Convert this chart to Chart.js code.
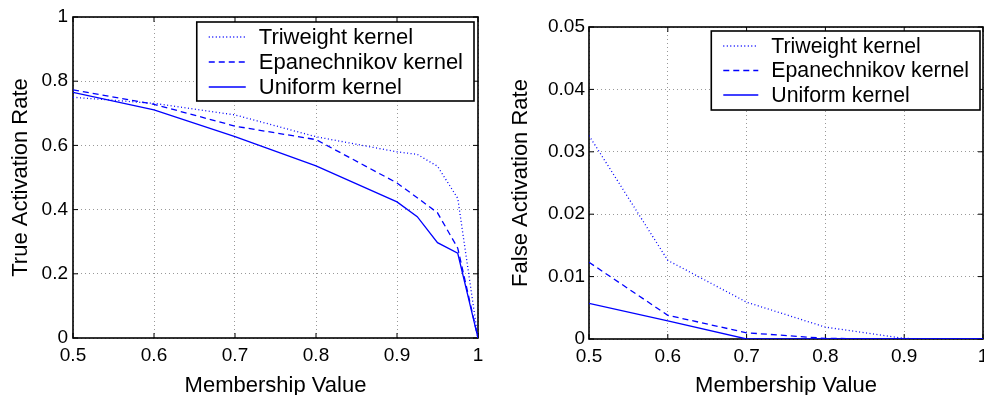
<!DOCTYPE html>
<html>
<head>
<meta charset="utf-8">
<script src="https://cdn.jsdelivr.net/npm/chart.js@4/dist/chart.umd.min.js"></script>
<style>
  html, body { margin: 0; padding: 0; background: #fff; overflow: hidden; }
  #wrap { position: relative; width: 984px; height: 395px; }
  #left { position: absolute; left: 0; top: 0; }
  #right { position: absolute; left: 490px; top: 0; }
</style>
</head>
<body>
<div id="wrap">
  <canvas id="left" width="490" height="395"></canvas>
  <canvas id="right" width="494" height="395"></canvas>
</div>
<script>
// membership values (shared by both panels)
const membership = [0.5, 0.6, 0.7, 0.8, 0.9, 0.925, 0.95, 0.975, 1.0];

// true activation rate
const tarTriweight = [0.750, 0.731, 0.695, 0.627, 0.580, 0.572, 0.535, 0.435, 0];
const tarEpanechnikov = [0.773, 0.728, 0.660, 0.618, 0.483, 0.437, 0.390, 0.280, 0];
const tarUniform = [0.765, 0.711, 0.627, 0.536, 0.424, 0.378, 0.297, 0.264, 0];

// false activation rate
const farTriweight = [0.0326, 0.0126, 0.0059, 0.0019, 0.0001, 0, 0, 0, 0];
const farEpanechnikov = [0.0123, 0.0038, 0.0010, 0.0001, 0, 0, 0, 0, 0];
const farUniform = [0.0057, 0.0029, 0, 0, 0, 0, 0, 0, 0];

const seriesNames = ['Triweight kernel', 'Epanechnikov kernel', 'Uniform kernel'];

const xTickValues = [0.5, 0.6, 0.7, 0.8, 0.9, 1];
const xTickLabels = ['0.5', '0.6', '0.7', '0.8', '0.9', '1'];
const tarTickValues = [0, 0.2, 0.4, 0.6, 0.8, 1];
const tarTickLabels = ['0', '0.2', '0.4', '0.6', '0.8', '1'];
const farTickValues = [0, 0.01, 0.02, 0.03, 0.04, 0.05];
const farTickLabels = ['0', '0.01', '0.02', '0.03', '0.04', '0.05'];

const FONT = '"Liberation Sans", Arial, Helvetica, sans-serif';
const BLUE = '#0000ff';
const dashes = [[1, 2.5], [6, 4], []];

function pts(ys) {
  return membership.map((x, i) => ({ x: x, y: ys[i] }));
}

// box, inward ticks (under the lines) and legend (on top), matlab style
const framePlugin = {
  id: 'frame',
  beforeDatasetsDraw(chart) {
    const ctx = chart.ctx;
    const a = chart.chartArea;
    const xs = chart.scales.x, ys = chart.scales.y;
    ctx.save();
    ctx.strokeStyle = '#000';
    ctx.lineWidth = 1;
    ctx.setLineDash([]);
    ctx.beginPath();
    xs.ticks.forEach(t => {
      const px = xs.getPixelForValue(t.value);
      ctx.moveTo(px, a.bottom); ctx.lineTo(px, a.bottom - 5);
      ctx.moveTo(px, a.top); ctx.lineTo(px, a.top + 5);
    });
    ys.ticks.forEach(t => {
      const py = ys.getPixelForValue(t.value);
      ctx.moveTo(a.left, py); ctx.lineTo(a.left + 5, py);
      ctx.moveTo(a.right, py); ctx.lineTo(a.right - 5, py);
    });
    ctx.stroke();
    ctx.lineWidth = 1.6;
    ctx.strokeRect(a.left, a.top, a.right - a.left, a.bottom - a.top);
    ctx.restore();
  },
  afterDraw(chart, args, opts) {
    const ctx = chart.ctx;
    const a = chart.chartArea;
    ctx.save();
    ctx.font = opts.size + 'px ' + FONT;
    const names = chart.data.datasets.map(d => d.label);
    const tw = Math.max(...names.map(n => ctx.measureText(n).width));
    const w = opts.textX + tw + 11;
    const h = 79;
    const bx = a.right - opts.right - w;
    const by = a.top + opts.top;
    ctx.fillStyle = '#fff';
    ctx.fillRect(bx, by, w, h);
    ctx.strokeStyle = '#000';
    ctx.lineWidth = 1.6;
    ctx.strokeRect(bx, by, w, h);
    chart.data.datasets.forEach((d, i) => {
      const ly = by + 15 + i * opts.row;
      ctx.strokeStyle = d.borderColor;
      ctx.lineWidth = 1.3;
      ctx.setLineDash(d.borderDash || []);
      ctx.beginPath();
      ctx.moveTo(bx + 12, ly); ctx.lineTo(bx + opts.textX - 13, ly);
      ctx.stroke();
      ctx.setLineDash([]);
      ctx.fillStyle = '#000';
      ctx.textBaseline = 'middle';
      ctx.fillText(d.label, bx + opts.textX, ly + 1);
    });
    ctx.restore();
  }
};

function makeChart(id, options) {
  const ctx = document.getElementById(id).getContext('2d');
  return new Chart(ctx, {
    type: 'line',
    data: {
      datasets: options.series.map((s, i) => ({
        label: seriesNames[i],
        data: pts(s),
        borderColor: BLUE,
        borderWidth: 1.3,
        borderDash: dashes[i],
        pointRadius: 0,
        tension: 0,
        fill: false
      }))
    },
    options: {
      responsive: false,
      animation: false,
      devicePixelRatio: 1,
      layout: { autoPadding: false, padding: options.padding },
      plugins: {
        legend: { display: false },
        tooltip: { enabled: false },
        frame: options.legend
      },
      scales: {
        x: {
          type: 'linear',
          min: 0.5,
          max: 1,
          afterBuildTicks: s => { s.ticks = xTickValues.map(v => ({ value: v })); },
          afterFit: s => {
            s.height = options.xHeight;
            s.paddingLeft = 0;
            s.paddingRight = 0;
          },
          ticks: {
            callback: (v, i) => xTickLabels[i],
            color: '#000',
            padding: 6,
            maxRotation: 0,
            font: { family: FONT, size: 19 }
          },
          grid: { color: '#999', lineWidth: 1, drawTicks: false },
          border: { display: false, dash: [1, 3] },
          title: {
            display: true,
            text: 'Membership Value',
            color: '#000',
            padding: { top: 0, bottom: 0 },
            font: { family: FONT, size: 22, lineHeight: 0.8 }
          }
        },
        y: {
          type: 'linear',
          min: options.yMin,
          max: options.yMax,
          afterBuildTicks: s => { s.ticks = options.yTicks.map(v => ({ value: v })); },
          afterFit: s => { s.width = options.yWidth; },
          ticks: {
            callback: (v, i) => options.yLabels[i],
            color: '#000',
            padding: options.yPad,
            font: { family: FONT, size: 19 }
          },
          grid: { color: '#999', lineWidth: 1, drawTicks: false },
          border: { display: false, dash: [1, 3] },
          title: {
            display: true,
            text: options.yTitle,
            color: '#000',
            padding: { top: options.yTitlePad, bottom: 0 },
            font: { family: FONT, size: 22 }
          }
        }
      }
    },
    plugins: [framePlugin]
  });
}

makeChart('left', {
  series: [tarTriweight, tarEpanechnikov, tarUniform],
  yMin: 0, yMax: 1,
  yTicks: tarTickValues, yLabels: tarTickLabels,
  yTitle: 'True Activation Rate',
  yWidth: 73, yPad: 5, yTitlePad: 8,
  xHeight: 57,
  padding: { left: 0, right: 12, top: 17, bottom: 0 },
  legend: { right: 4, top: 5, size: 22, textX: 62, row: 25 }
});

makeChart('right', {
  series: [farTriweight, farEpanechnikov, farUniform],
  yMin: 0, yMax: 0.05,
  yTicks: farTickValues, yLabels: farTickLabels,
  yTitle: 'False Activation Rate',
  yWidth: 99, yPad: 4, yTitlePad: 18,
  xHeight: 56,
  padding: { left: 0, right: 1, top: 27, bottom: 0 },
  legend: { right: 3, top: 4, size: 21.3, textX: 60, row: 24.5 }
});
</script>
</body>
</html>
